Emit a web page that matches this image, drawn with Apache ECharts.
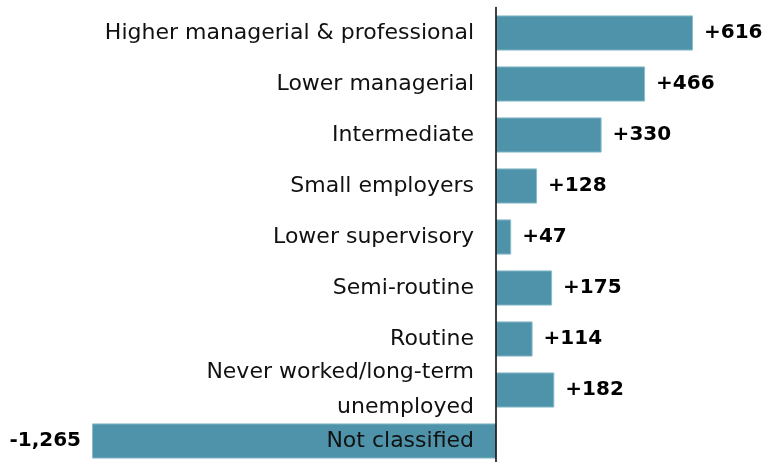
<!DOCTYPE html>
<html>
<head>
<meta charset="utf-8">
<script src="https://cdn.jsdelivr.net/npm/echarts@6/dist/echarts.min.js"></script>
<style>
  html, body { margin: 0; padding: 0; background: #fff; }
  #main { width: 765px; height: 462px; }
</style>
</head>
<body>
<div id="main"></div>
<script>
var categories = [
    'Higher managerial & professional',
    'Lower managerial',
    'Intermediate',
    'Small employers',
    'Lower supervisory',
    'Semi-routine',
    'Routine',
    'Never worked/long-term\nunemployed',
    'Not classified'
];
var changes = [616, 466, 330, 128, 47, 175, 114, 182, -1265];

function fmtChange(v) {
    var s = Math.abs(v).toLocaleString('en-GB');
    return (v > 0 ? '+' : '-') + s;
}

var myChart = echarts.init(document.getElementById('main'));

var barData = changes.map(function (v) {
    return {
        value: v,
        label: { position: v >= 0 ? 'right' : 'left' }
    };
});

var option = {
    animation: false,
    textStyle: { fontFamily: 'DejaVu Sans, sans-serif' },
    grid: {
        left: 92, right: 72, top: 7.5, bottom: -4.5,
        containLabel: false,
        outerBoundsMode: 'none'
    },
    xAxis: {
        type: 'value',
        min: -1265,
        max: 616,
        show: false
    },
    yAxis: {
        type: 'category',
        data: categories,
        inverse: true,
        // shift the axis (line + labels) right so it sits on zero
        offset: -404,
        axisLine: { onZero: false, lineStyle: { color: '#000', width: 1.5 } },
        axisTick: { show: false },
        splitLine: { show: false },
        axisLabel: {
            interval: 0,
            hideOverlap: false,
            color: '#111',
            fontSize: 22,
            margin: 22,
            lineHeight: 35,
            fontFamily: 'DejaVu Sans, sans-serif'
        },
        zlevel: 1
    },
    series: [{
        type: 'bar',
        data: barData,
        barCategoryGap: '31%',
        itemStyle: { color: '#4e93a9', borderColor: '#8dbccb', borderWidth: 1 },
        label: {
            show: true,
            distance: 11,
            color: '#000',
            fontSize: 20,
            fontWeight: 'bold',
            fontFamily: 'DejaVu Sans, sans-serif',
            formatter: function (p) { return fmtChange(p.value); }
        }
    }]
};

myChart.setOption(option);
</script>
</body>
</html>
